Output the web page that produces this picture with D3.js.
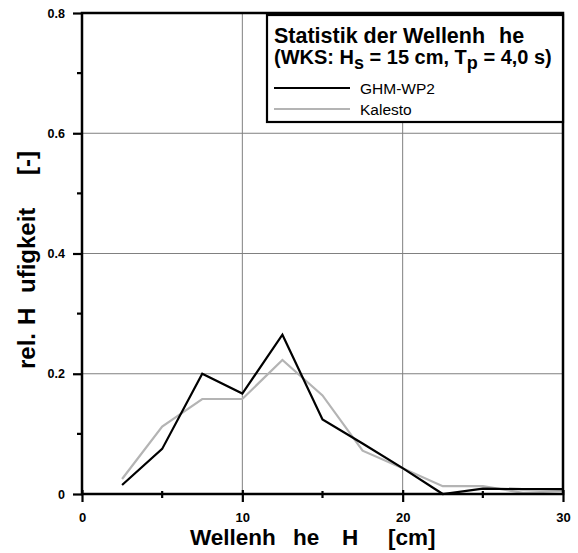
<!DOCTYPE html>
<html><head><meta charset="utf-8">
<script src="https://cdn.jsdelivr.net/npm/d3@7/dist/d3.min.js"></script>
<style>body{margin:0;background:#fff}svg{display:block;font-family:"Liberation Sans",Arial,sans-serif}</style>
</head><body><svg id="c" width="578" height="553"></svg>
<script>
const xValues = [2.5,5,7.5,10,12.5,15,17.5,20,22.5,25,27.5,30];
const ghm = [0.015,0.075,0.200,0.167,0.265,0.124,0.084,0.043,0.000,0.009,0.008,0.008];
const kalesto = [0.025,0.112,0.158,0.158,0.223,0.164,0.072,0.043,0.013,0.013,0.002,0.005];
const xTicks = [0,10,20,30];
const xMinor = [5,15,25];
const yTicks = [0,0.2,0.4,0.6,0.8];
const yMinor = [0.1,0.3,0.5,0.7];
const seriesNames = ["GHM-WP2","Kalesto"];
const xTitleParts = ["Wellenh","he","H","[cm]"];
const yTitleParts = ["rel.","H","ufigkeit","[-]"];

const svg = d3.select("#c");
const L=82,R=563,T=13,B=494;
const x = d3.scaleLinear().domain([0,30]).range([L,R]);
const y = d3.scaleLinear().domain([0,0.8]).range([B,T]);

// grid
const legBox = {x0:267,y0:15,x1:563,y1:122};
svg.append("g").selectAll("line").data([10,20]).join("line")
  .attr("x1",d=>x(d)).attr("x2",d=>x(d)).attr("y1",B).attr("y2",d=>x(d)>legBox.x0?legBox.y1:T)
  .attr("stroke","#808080").attr("stroke-width",1);
svg.append("g").selectAll("line").data([0.2,0.4,0.6]).join("line")
  .attr("x1",L).attr("x2",R).attr("y1",d=>y(d)).attr("y2",d=>y(d))
  .attr("stroke","#808080").attr("stroke-width",1);

// series
const line = d3.line().x(d=>x(d[0])).y(d=>y(d[1]));
svg.append("path").datum(xValues.map((v,i)=>[v,kalesto[i]])).attr("d",line)
  .attr("fill","none").attr("stroke","#b4b4b4").attr("stroke-width",2.2);
svg.append("path").datum(xValues.map((v,i)=>[v,ghm[i]])).attr("d",line)
  .attr("fill","none").attr("stroke","#000").attr("stroke-width",2.2);

// frame
svg.append("rect").attr("x",L).attr("y",T).attr("width",R-L).attr("height",B-T)
  .attr("fill","none").attr("stroke","#000").attr("stroke-width",2.5);

const FF = "Liberation Sans, Arial, sans-serif";
// axes
const xa = svg.append("g").attr("transform",`translate(0,${B})`)
  .call(d3.axisBottom(x).tickValues(xTicks).tickSize(8).tickFormat(d3.format("d")));
xa.select(".domain").remove();
xa.selectAll(".tick line").attr("y1",-4).attr("y2",8).attr("stroke-width",2.2);
xa.selectAll(".tick text").attr("dy",0).attr("y",28).attr("font-size",13).attr("font-weight","bold").attr("font-family",FF);
svg.append("g").selectAll("line").data(xMinor).join("line")
  .attr("x1",d=>x(d)).attr("x2",d=>x(d)).attr("y1",B-3).attr("y2",B+4).attr("stroke","#000").attr("stroke-width",2.2);

const ya = svg.append("g").attr("transform",`translate(${L},0)`)
  .call(d3.axisLeft(y).tickValues(yTicks).tickSize(9).tickFormat(d=>d===0?"0":d3.format(".1f")(d)));
ya.select(".domain").remove();
ya.selectAll(".tick line").attr("stroke-width",2.2);
ya.selectAll(".tick text").attr("x",-17).attr("font-size",12.5).attr("font-weight","bold").attr("font-family",FF);
svg.append("g").selectAll("line").data(yMinor).join("line")
  .attr("x1",L-5).attr("x2",L).attr("y1",d=>y(d)).attr("y2",d=>y(d)).attr("stroke","#000").attr("stroke-width",2.2);

// axis titles
const xt = svg.append("text").attr("y",545).attr("font-size",22.5).attr("font-weight","bold");
const xPos = [190,293,342,388];
xTitleParts.forEach((p,i)=>xt.append("tspan").attr("x",xPos[i]).text(p));
const yt = svg.append("text").attr("transform","translate(35,0) rotate(-90)")
  .attr("font-size",24).attr("font-weight","bold");
const yPos = [369,325,293,175];
yTitleParts.forEach((p,i)=>yt.append("tspan").attr("x",-yPos[i]).text(p));

// legend
svg.append("rect").attr("x",legBox.x0).attr("y",legBox.y0).attr("width",legBox.x1-legBox.x0).attr("height",legBox.y1-legBox.y0)
  .attr("fill","#fff").attr("stroke","#000").attr("stroke-width",2.2);
const t1 = svg.append("text").attr("y",43).attr("font-size",21.5).attr("font-weight","bold").style("white-space","pre");
t1.append("tspan").attr("x",274).text("Statistik der Wellenh");
t1.append("tspan").attr("x",499).text("he");
const t2 = svg.append("text").attr("x",274).attr("y",64).attr("font-size",20).attr("font-weight","bold").style("white-space","pre");
t2.append("tspan").text("(WKS: H");
t2.append("tspan").attr("dy",5).attr("font-size",18).text("s");
t2.append("tspan").attr("dy",-5).text(" = 15 cm, T");
t2.append("tspan").attr("dy",5).attr("font-size",18).text("p");
t2.append("tspan").attr("dy",-5).text(" = 4,0 s)");
const legColors = ["#000","#b4b4b4"];
seriesNames.forEach((n,i)=>{
  const yy = 88 + i*21;
  svg.append("line").attr("x1",274).attr("x2",350).attr("y1",yy).attr("y2",yy)
    .attr("stroke",legColors[i]).attr("stroke-width",2.2);
  svg.append("text").attr("x",360).attr("y",yy+6).attr("font-size",15.5).text(n);
});
</script></body></html>
